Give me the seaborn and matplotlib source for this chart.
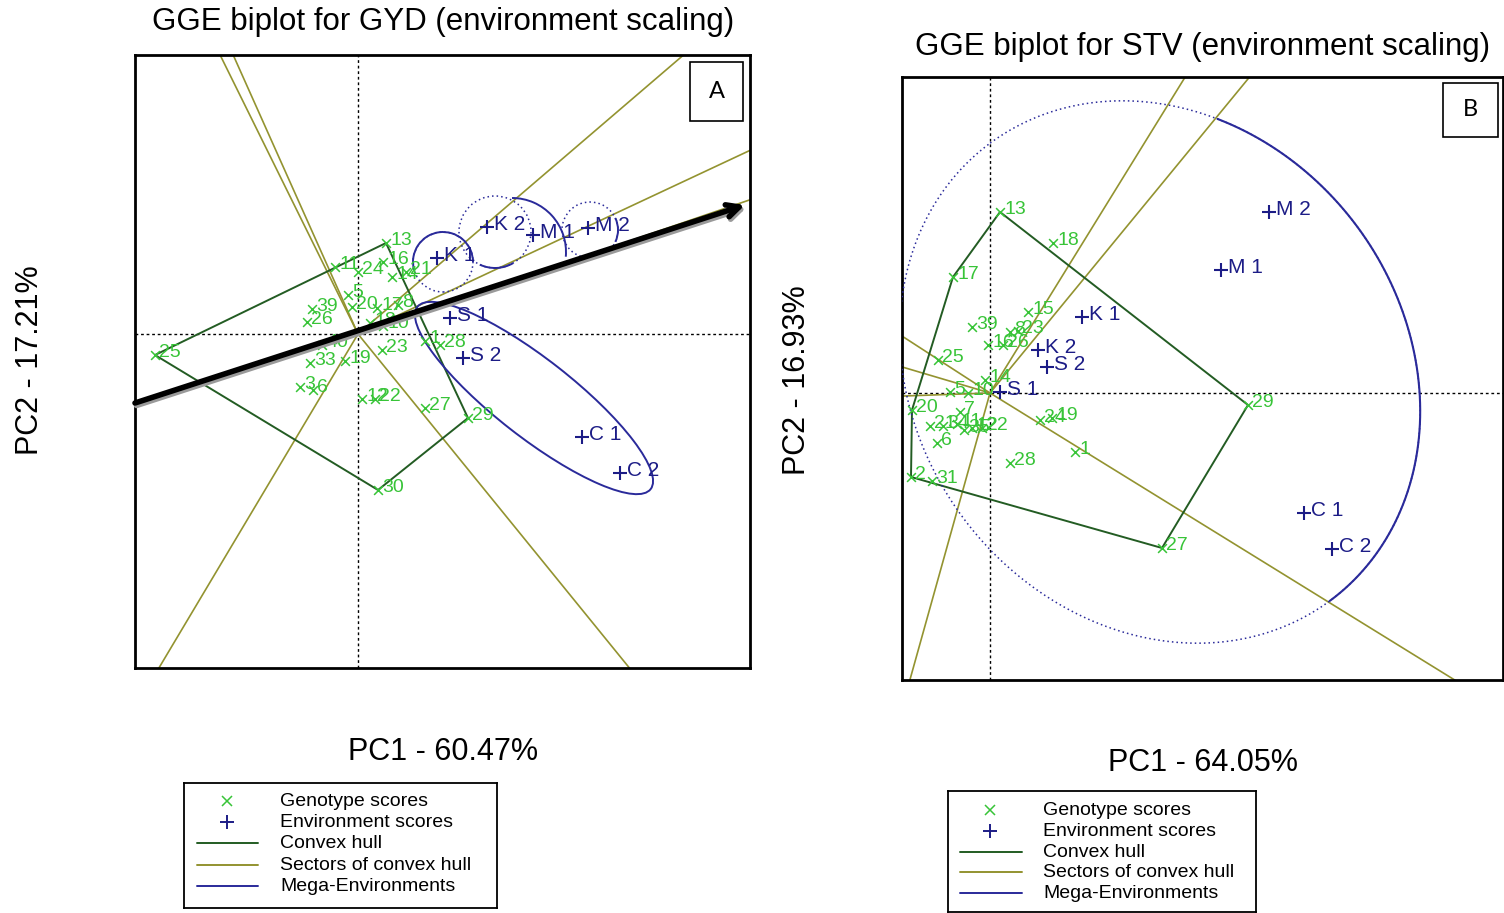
import numpy as np
import pandas as pd
import matplotlib
matplotlib.use("Agg")
import matplotlib.pyplot as plt
import matplotlib.transforms as mtransforms
from matplotlib.patches import Ellipse, Arc, Circle, Rectangle
import seaborn as sns

# output size in pixels
W, H = 1504, 913

# ---- A: grain yield (GYD) ----
gyd_gen_labels = ["13", "11", "24", "16", "14", "21", "5", "39", "20", "17", "8", "26", "18", "10",
                  "40", "33", "19", "23", "3", "6", "12", "22", "1", "28", "27", "29", "30", "25"]
gyd_gen_pc1 = [0.28, -0.23, 0.00, 0.25, 0.34, 0.48, -0.10, -0.46, -0.06, 0.19, 0.40, -0.51, 0.12, 0.25,
               -0.36, -0.48, -0.13, 0.24, -0.58, -0.45, 0.04, 0.17, 0.67, 0.82, 0.67, 1.10, 0.20, -2.03]
gyd_gen_pc2 = [0.91, 0.67, 0.62, 0.72, 0.57, 0.62, 0.39, 0.25, 0.27, 0.26, 0.29, 0.12, 0.11, 0.08,
               -0.11, -0.29, -0.27, -0.16, -0.53, -0.56, -0.65, -0.65, -0.07, -0.11, -0.74, -0.84, -1.56, -0.21]
gyd_env_labels = ["K 1", "K 2", "M 1", "M 2", "S 1", "S 2", "C 1", "C 2"]
gyd_env_pc1 = [0.79, 1.29, 1.75, 2.30, 0.92, 1.05, 2.24, 2.62]
gyd_env_pc2 = [0.76, 1.07, 0.99, 1.06, 0.16, -0.24, -1.03, -1.39]
gyd_hull = ["25", "13", "29", "30"]
gyd_sector_deg = [116.3, 114.1, 239.2, 309.1, 40.6, 25.1, 18.9]
# mega-environments: S/C ellipse, dotted circles round K and M, solid arcs
gyd_me_ellipse = (1.76, -0.64, 2.96, 0.78, -38)
gyd_me_circ_x = [0.85, 1.37, 2.32]
gyd_me_circ_y = [0.72, 1.02, 1.04]
gyd_me_circ_r = [0.30, 0.36, 0.28]
gyd_me_arcs = [(0.85, 0.72, 0.30, 0, 195), (1.37, 1.02, 0.36, 245, 300),
               (1.54, 0.82, 0.54, -5, 90), (2.32, 1.04, 0.28, -25, 25)]
gyd_arrow = [(-2.23, -0.69), (3.87, 1.29)]

# ---- B: STV ----
stv_gen_labels = ["13", "18", "17", "15", "39", "8", "23", "16", "26", "25", "14", "5", "10", "20", "7",
                  "21", "34", "11", "35", "12", "22", "6", "2", "31", "24", "19", "1", "28", "29", "27"]
stv_gen_pc1 = [0.10, 0.63, -0.37, 0.38, -0.18, 0.20, 0.28, -0.02, 0.13, -0.52, -0.05, -0.40, -0.22, -0.78, -0.30,
               -0.60, -0.47, -0.33, -0.26, -0.18, -0.08, -0.53, -0.79, -0.58, 0.50, 0.62, 0.85, 0.20, 2.58, 1.72]
stv_gen_pc2 = [1.81, 1.50, 1.16, 0.81, 0.66, 0.61, 0.62, 0.48, 0.48, 0.33, 0.13, 0.01, 0.00, -0.17, -0.19,
               -0.33, -0.33, -0.31, -0.37, -0.35, -0.35, -0.50, -0.84, -0.88, -0.27, -0.25, -0.59, -0.70, -0.12, -1.55]
stv_env_labels = ["M 2", "M 1", "K 1", "K 2", "S 2", "S 1", "C 1", "C 2"]
stv_env_pc1 = [2.79, 2.31, 0.92, 0.48, 0.57, 0.10, 3.14, 3.42]
stv_env_pc2 = [1.81, 1.23, 0.76, 0.43, 0.26, 0.01, -1.20, -1.56]
stv_hull = ["13", "29", "27", "2", "20", "17"]
stv_sector_deg = [58.3, 50.6, -31.7, 254.4, 147.1, 163.5, 182.0]
stv_me_ellipse = (1.70, 0.21, 5.70, 4.90, 127)
stv_me_solid = (-31.7, 50.6)

LEGEND_TEXT = ["Genotype scores", "Environment scores", "Convex hull",
               "Sectors of convex hull", "Mega-Environments"]

# colours
GEN_COL = "#38c438"
ENV_COL = "#1c1c86"
HULL_COL = "#235c23"
SECT_COL = "#939330"
ME_COL = "#2a2a9a"

sns.set_style("white")
plt.rcParams["font.family"] = ["Liberation Sans", "DejaVu Sans"]
plt.rcParams["text.color"] = "black"

fig = plt.figure(figsize=(W / 100, H / 100), dpi=100)


def px_axes(left, top, right, bottom):
    return fig.add_axes([left / W, 1 - bottom / H, (right - left) / W, (bottom - top) / H])


def px_text(x, y, s, **kw):
    fig.text(x / W, 1 - y / H, s, ha="center", va="center", color="black", **kw)


def biplot(ax, gen_lab, gen_x, gen_y, env_lab, env_x, env_y, hull, sectors, xlim, ylim):
    ax.set_xlim(*xlim)
    ax.set_ylim(*ylim)
    ax.axhline(0, color="black", lw=1, ls=(0, (2, 2)), zorder=1)
    ax.axvline(0, color="black", lw=1, ls=(0, (2, 2)), zorder=1)
    for a in sectors:
        t = np.deg2rad(a)
        ax.plot([0, 12 * np.cos(t)], [0, 12 * np.sin(t)], color=SECT_COL, lw=1.2, zorder=2)

    gen = pd.DataFrame({"label": gen_lab, "pc1": gen_x, "pc2": gen_y})
    env = pd.DataFrame({"label": env_lab, "pc1": env_x, "pc2": env_y})
    hv = gen.set_index("label").loc[hull + hull[:1]]
    ax.plot(hv["pc1"], hv["pc2"], color=HULL_COL, lw=1.4, zorder=3)

    sns.scatterplot(data=gen, x="pc1", y="pc2", marker="x", color=GEN_COL, s=40,
                    linewidth=1.1, ax=ax, zorder=4)
    sns.scatterplot(data=env, x="pc1", y="pc2", marker="+", color=ENV_COL, s=110,
                    linewidth=1.5, ax=ax, zorder=4)
    for _, r in gen.iterrows():
        ax.annotate(r["label"], (r["pc1"], r["pc2"]), xytext=(3, 1.5), textcoords="offset points",
                    ha="left", va="center", color=GEN_COL, fontsize=14, zorder=5)
    for _, r in env.iterrows():
        ax.annotate(r["label"], (r["pc1"], r["pc2"]), xytext=(5, 1.5), textcoords="offset points",
                    ha="left", va="center", color=ENV_COL, fontsize=15, zorder=5)

    ax.set(xticks=[], yticks=[], xlabel="", ylabel="")
    for sp in ax.spines.values():
        sp.set_visible(True)
        sp.set_color("black")
        sp.set_linewidth(2)


def legend_box(left, top, right, bottom, rows_y, mark_x, line_x0, line_x1, text_x):
    lax = px_axes(left, top, right, bottom)
    lax.set_xlim(left, right)
    lax.set_ylim(bottom, top)
    lax.set_xticks([])
    lax.set_yticks([])
    for sp in lax.spines.values():
        sp.set_color("black")
        sp.set_linewidth(1.3)
    lax.plot(mark_x, rows_y[0], marker="x", color=GEN_COL, ms=7, mew=1.1, ls="none")
    lax.plot(mark_x, rows_y[1], marker="+", color=ENV_COL, ms=10, mew=1.4, ls="none")
    for yy, c in zip(rows_y[2:], [HULL_COL, SECT_COL, ME_COL]):
        lax.plot([line_x0, line_x1], [yy, yy], color=c, lw=1.4)
    for yy, s in zip(rows_y, LEGEND_TEXT):
        lax.text(text_x, yy, s, ha="left", va="center", fontsize=14, color="black")


def tag_box(l, t, r, b, s):
    fig.patches.append(Rectangle((l / W, 1 - b / H), (r - l) / W, (b - t) / H, transform=fig.transFigure,
                                 fc="white", ec="black", lw=1.2, zorder=5))
    fig.text((l + r) / 2 / W, 1 - (t + b) / 2 / H, s, ha="center", va="center", fontsize=17,
             family=["Lato", "DejaVu Sans"], color="black", zorder=6)


# ---- panel A ----
axA = px_axes(135, 55, 750, 668)
biplot(axA, gyd_gen_labels, gyd_gen_pc1, gyd_gen_pc2, gyd_env_labels, gyd_env_pc1, gyd_env_pc2,
       gyd_hull, gyd_sector_deg, (-2.23, 3.92), (-3.34, 2.79))
ex, ey, ew, eh, ea = gyd_me_ellipse
axA.add_patch(Ellipse((ex, ey), ew, eh, angle=ea, fill=False, ec=ME_COL, lw=1.4, zorder=3))
for cx, cy, r in zip(gyd_me_circ_x, gyd_me_circ_y, gyd_me_circ_r):
    axA.add_patch(Circle((cx, cy), r, fill=False, ec=ME_COL, lw=1.1, ls=(0, (1, 2)), zorder=3))
for cx, cy, r, t1, t2 in gyd_me_arcs:
    axA.add_patch(Arc((cx, cy), 2 * r, 2 * r, theta1=t1, theta2=t2, ec=ME_COL, lw=1.4, zorder=3))

# the black arrow with a grey shadow
shadow = mtransforms.offset_copy(axA.transData, fig=fig, x=1.5, y=-2.5, units="dots")
for tr, col in [(shadow, "#9a9a9a"), (axA.transData, "black")]:
    axA.annotate("", xy=gyd_arrow[1], xytext=gyd_arrow[0], xycoords=tr, textcoords=tr,
                 arrowprops=dict(arrowstyle="->,head_length=0.9,head_width=0.45", lw=4,
                                 color=col, shrinkA=0, shrinkB=0), zorder=6)

# ---- panel B ----
axB = px_axes(902, 77, 1503, 680)
biplot(axB, stv_gen_labels, stv_gen_pc1, stv_gen_pc2, stv_env_labels, stv_env_pc1, stv_env_pc2,
       stv_hull, stv_sector_deg, (-0.88, 5.13), (-2.87, 3.16))
ex, ey, ew, eh, ea = stv_me_ellipse
tt = np.linspace(0, 2 * np.pi, 721)
rot = np.deg2rad(ea)
px = ex + ew / 2 * np.cos(tt) * np.cos(rot) - eh / 2 * np.sin(tt) * np.sin(rot)
py = ey + ew / 2 * np.cos(tt) * np.sin(rot) + eh / 2 * np.sin(tt) * np.cos(rot)
axB.plot(px, py, color=ME_COL, lw=1.1, ls=(0, (1, 2)), zorder=3)
ang = np.degrees(np.arctan2(py, px))
solid = (ang >= stv_me_solid[0]) & (ang <= stv_me_solid[1])
order = np.argsort(ang[solid])
axB.plot(px[solid][order], py[solid][order], color=ME_COL, lw=1.5, zorder=3)

# ---- titles, axis labels, legends, tags ----
px_text(443, 22, "GGE biplot for GYD (environment scaling)", fontsize=22.5)
px_text(1203, 47, "GGE biplot for STV (environment scaling)", fontsize=22.5)
px_text(443, 752, "PC1 - 60.47%", fontsize=22)
px_text(1203, 763, "PC1 - 64.05%", fontsize=22)
px_text(30, 360, "PC2 - 17.21%", fontsize=22, rotation=90)
px_text(797, 380, "PC2 - 16.93%", fontsize=22, rotation=90)

legend_box(184, 783, 497, 908, [801, 822, 843, 865, 886], 227, 197, 258, 280)
legend_box(948, 791, 1256, 912, [810, 831, 852, 872, 893], 990, 960, 1022, 1043)

tag_box(690, 62, 743, 121, "A")
tag_box(1443, 83, 1498, 137, "B")

fig.savefig("out.png", dpi=100)
